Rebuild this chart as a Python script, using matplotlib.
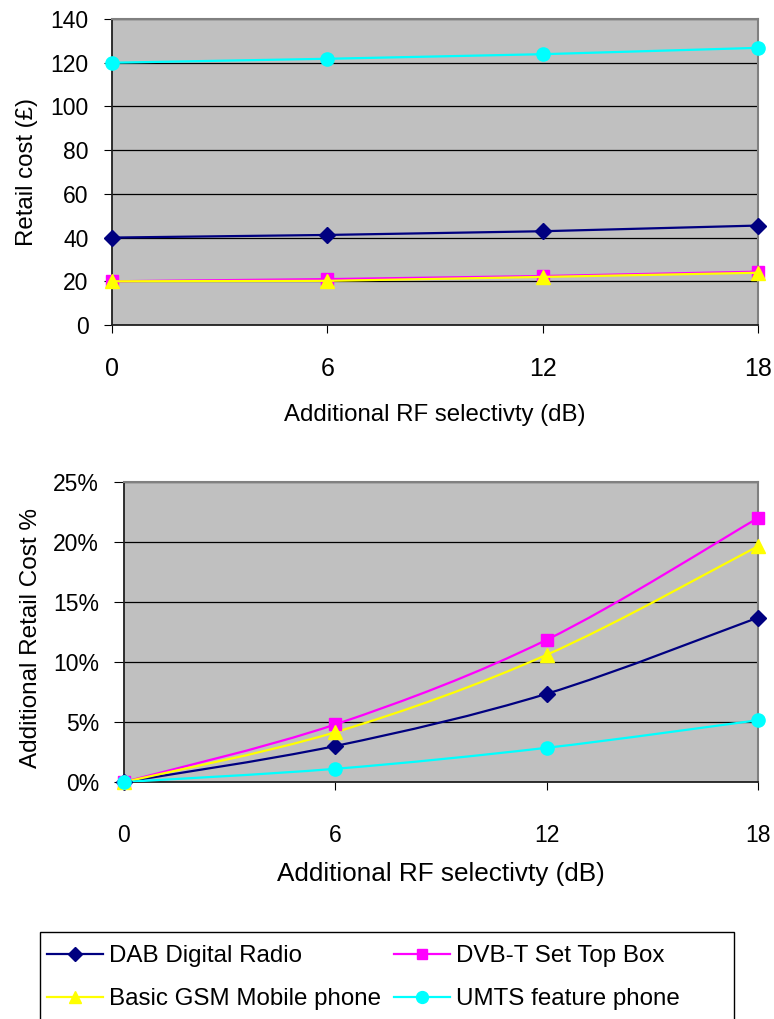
import numpy as np
import matplotlib.pyplot as plt
from matplotlib.path import Path
from matplotlib.patches import PathPatch, Rectangle
from matplotlib.lines import Line2D
from matplotlib.ticker import FuncFormatter

plt.rcParams.update({"font.family": ["Liberation Sans", "DejaVu Sans"]})

# Datos
selectividad = [0, 6, 12, 18]
series = ["DAB Digital Radio", "DVB-T Set Top Box", "Basic GSM Mobile phone", "UMTS feature phone"]
coste_dab = [40, 41.2, 42.9, 45.5]
coste_dvb = [20, 21.0, 22.4, 24.4]
coste_gsm = [20, 20.2, 22.0, 23.9]
coste_umts = [120, 121.8, 123.9, 126.8]
extra_dab = [0, 3.0, 7.35, 13.7]
extra_dvb = [0, 4.8, 11.85, 22.0]
extra_gsm = [0, 4.15, 10.6, 19.65]
extra_umts = [0, 1.1, 2.85, 5.15]

colores = ["#000080", "#FF00FF", "#FFFF00", "#00FFFF"]
marcadores = ["D", "s", "^", "o"]
tam_marc = [8, 8.5, 10, 9.5]
fondo = "#C0C0C0"


def curva_suave(ax, x, y, color):
    # Curva tipo Excel (Catmull-Rom en Bezier cúbicas)
    pts = np.column_stack([x, y]).astype(float)
    verts = [pts[0]]
    codes = [Path.MOVETO]
    n = len(pts)
    for i in range(n - 1):
        p0 = pts[max(i - 1, 0)]
        p1 = pts[i]
        p2 = pts[i + 1]
        p3 = pts[min(i + 2, n - 1)]
        verts += [p1 + (p2 - p0) / 6, p2 - (p3 - p1) / 6, p2]
        codes += [Path.CURVE4] * 3
    ax.add_patch(PathPatch(Path(verts, codes), facecolor="none", edgecolor=color, lw=1.6, zorder=3))


def estilo_ejes(ax):
    ax.set_facecolor(fondo)
    ax.grid(axis="y", color="black", lw=0.9)
    ax.set_axisbelow(True)
    for s in ["top", "right"]:
        ax.spines[s].set_color("#808080")
        ax.spines[s].set_linewidth(1.5)
    for s in ["left", "bottom"]:
        ax.spines[s].set_color("#202020")
        ax.spines[s].set_linewidth(1.3)
    ax.set_xlim(0, 18)
    ax.set_xticks(selectividad)


fig = plt.figure(figsize=(7.74, 10.19), dpi=100)

### Gráfico superior: coste de venta ###
ax1 = fig.add_axes([112 / 774, 1 - 325 / 1019, 646 / 774, 306 / 1019])
estilo_ejes(ax1)
costes = [coste_dab, coste_dvb, coste_gsm, coste_umts]
for y, c, m, ms in zip(costes, colores, marcadores, tam_marc):
    ax1.plot(selectividad, y, color=c, lw=1.6, marker=m, ms=ms, clip_on=False, zorder=4)
ax1.set_ylim(0, 140)
ax1.set_yticks(range(0, 141, 20))
ax1.tick_params(axis="y", labelsize=16.5, length=6, pad=11, direction="out")
ax1.tick_params(axis="x", labelsize=18, length=6, pad=17, direction="out")
ax1.set_ylabel("Retail cost (£)", fontsize=17.3)
ax1.yaxis.set_label_coords(-0.114, 0.5)
ax1.set_xlabel("Additional RF selectivty (dB)", fontsize=17.3)
ax1.xaxis.set_label_coords(0.5, -0.258)

### Gráfico inferior: coste adicional % ###
ax2 = fig.add_axes([124 / 774, 1 - 782 / 1019, 634 / 774, 300 / 1019])
estilo_ejes(ax2)
extras = [extra_dab, extra_dvb, extra_gsm, extra_umts]
for y, c, m, ms in zip(extras, colores, marcadores, tam_marc):
    curva_suave(ax2, selectividad, y, c)
    ax2.plot(selectividad, y, color=c, lw=0, marker=m, ms=ms, clip_on=False, zorder=4)
ax2.set_ylim(0, 25)
ax2.set_yticks(range(0, 26, 5))
ax2.yaxis.set_major_formatter(FuncFormatter(lambda v, p: f"{v:.0f}%"))
ax2.tick_params(axis="y", labelsize=16.5, length=7, pad=11, direction="out")
ax2.tick_params(axis="x", labelsize=16.5, length=6, pad=24, direction="out")
ax2.set_ylabel("Additional Retail Cost %", fontsize=17.5)
ax2.yaxis.set_label_coords(-0.13, 0.48)
ax2.set_xlabel("Additional RF selectivty (dB)", fontsize=18.8)
ax2.xaxis.set_label_coords(0.5, -0.267)

### Leyenda ###
handles = [
    Line2D([], [], color=c, lw=1.6, marker=m, ms=ms * 0.9)
    for c, m, ms in zip(colores, marcadores, tam_marc)
]
orden = [0, 2, 1, 3]
fig.legend(
    [handles[i] for i in orden],
    [series[i] for i in orden],
    ncol=2,
    loc="upper left",
    bbox_to_anchor=(47 / 774, 1 - 945 / 1019),
    frameon=False,
    fontsize=17.4,
    handlelength=2.3,
    handletextpad=0.25,
    columnspacing=0.55,
    labelspacing=0.87,
    borderaxespad=0,
    borderpad=0,
)
fig.patches.append(
    Rectangle((40 / 774, -0.05), (734 - 40) / 774, 1 - 932 / 1019 + 0.05,
              transform=fig.transFigure, fill=False, edgecolor="black", lw=1.0)
)

fig.savefig("out.png", dpi=100)
